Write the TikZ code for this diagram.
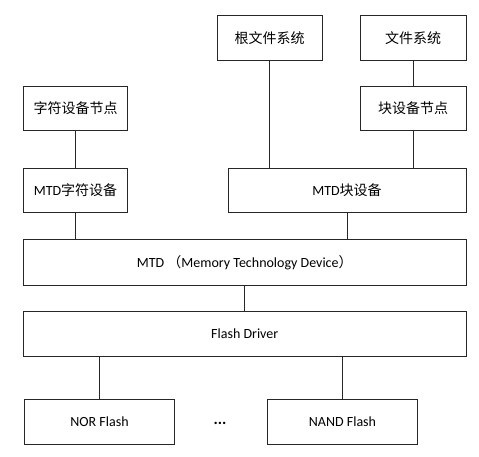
\documentclass[tikz,border=0pt]{standalone}
\usepackage{fontspec}
\setmainfont{Carlito}
\newfontfamily\cjk{Noto Sans CJK SC}
\begin{document}
\begin{tikzpicture}[x=1pt,y=-1pt,
  box/.style={draw=black!85,line width=0.8pt,fill=white,rectangle,inner sep=0pt,
    minimum height=44.7pt,font=\fontsize{14}{16}\selectfont},
  link/.style={draw=black!85,line width=0.8pt}]
\useasboundingbox (0,0) rectangle (479,456);
\node[box,minimum width=104.7pt] (root) at (269.7,37.7) {\cjk 根文件系统};
\node[box,minimum width=105.7pt] (fs) at (413.2,37.7) {\cjk 文件系统};
\node[box,minimum width=104pt] (chrnode) at (75.5,108.3) {\cjk 字符设备节点};
\node[box,minimum width=105.7pt] (blknode) at (413.2,108.3) {\cjk 块设备节点};
\node[box,minimum width=104pt] (mtdchr) at (75.5,190.3) {MTD{\cjk 字符设备}};
\node[box,minimum width=238pt] (mtdblk) at (347,190.3) {MTD{\cjk 块设备}};
\node[box,minimum width=442.5pt,minimum height=45.3pt] (mtd) at (244.75,262.3) {MTD {\cjk （}Memory Technology Device{\cjk ）}};
\node[box,minimum width=442.5pt,minimum height=44.3pt] (driver) at (244.75,333.8) {Flash Driver};
\node[box,minimum width=150.5pt,minimum height=45pt] (nor) at (99.5,421.8) {NOR Flash};
\node[box,minimum width=149.6pt,minimum height=45pt] (nand) at (342.5,421.8) {NAND Flash};
\node[font=\fontsize{16}{18}\selectfont\bfseries] (dots) at (220,423) {...};
\draw[link] (root.south) -- (root.south |- mtdblk.north);
\draw[link] (fs.south) -- (blknode.north);
\draw[link] (blknode.south) -- (blknode.south |- mtdblk.north);
\draw[link] (chrnode.south) -- (mtdchr.north);
\draw[link] (mtdchr.south) -- (mtdchr.south |- mtd.north);
\draw[link] (mtdblk.south) -- (mtdblk.south |- mtd.north);
\draw[link] (mtd.south) -- (driver.north);
\draw[link] (nor.north |- driver.south) -- (nor.north);
\draw[link] (nand.north |- driver.south) -- (nand.north);
\end{tikzpicture}
\end{document}
